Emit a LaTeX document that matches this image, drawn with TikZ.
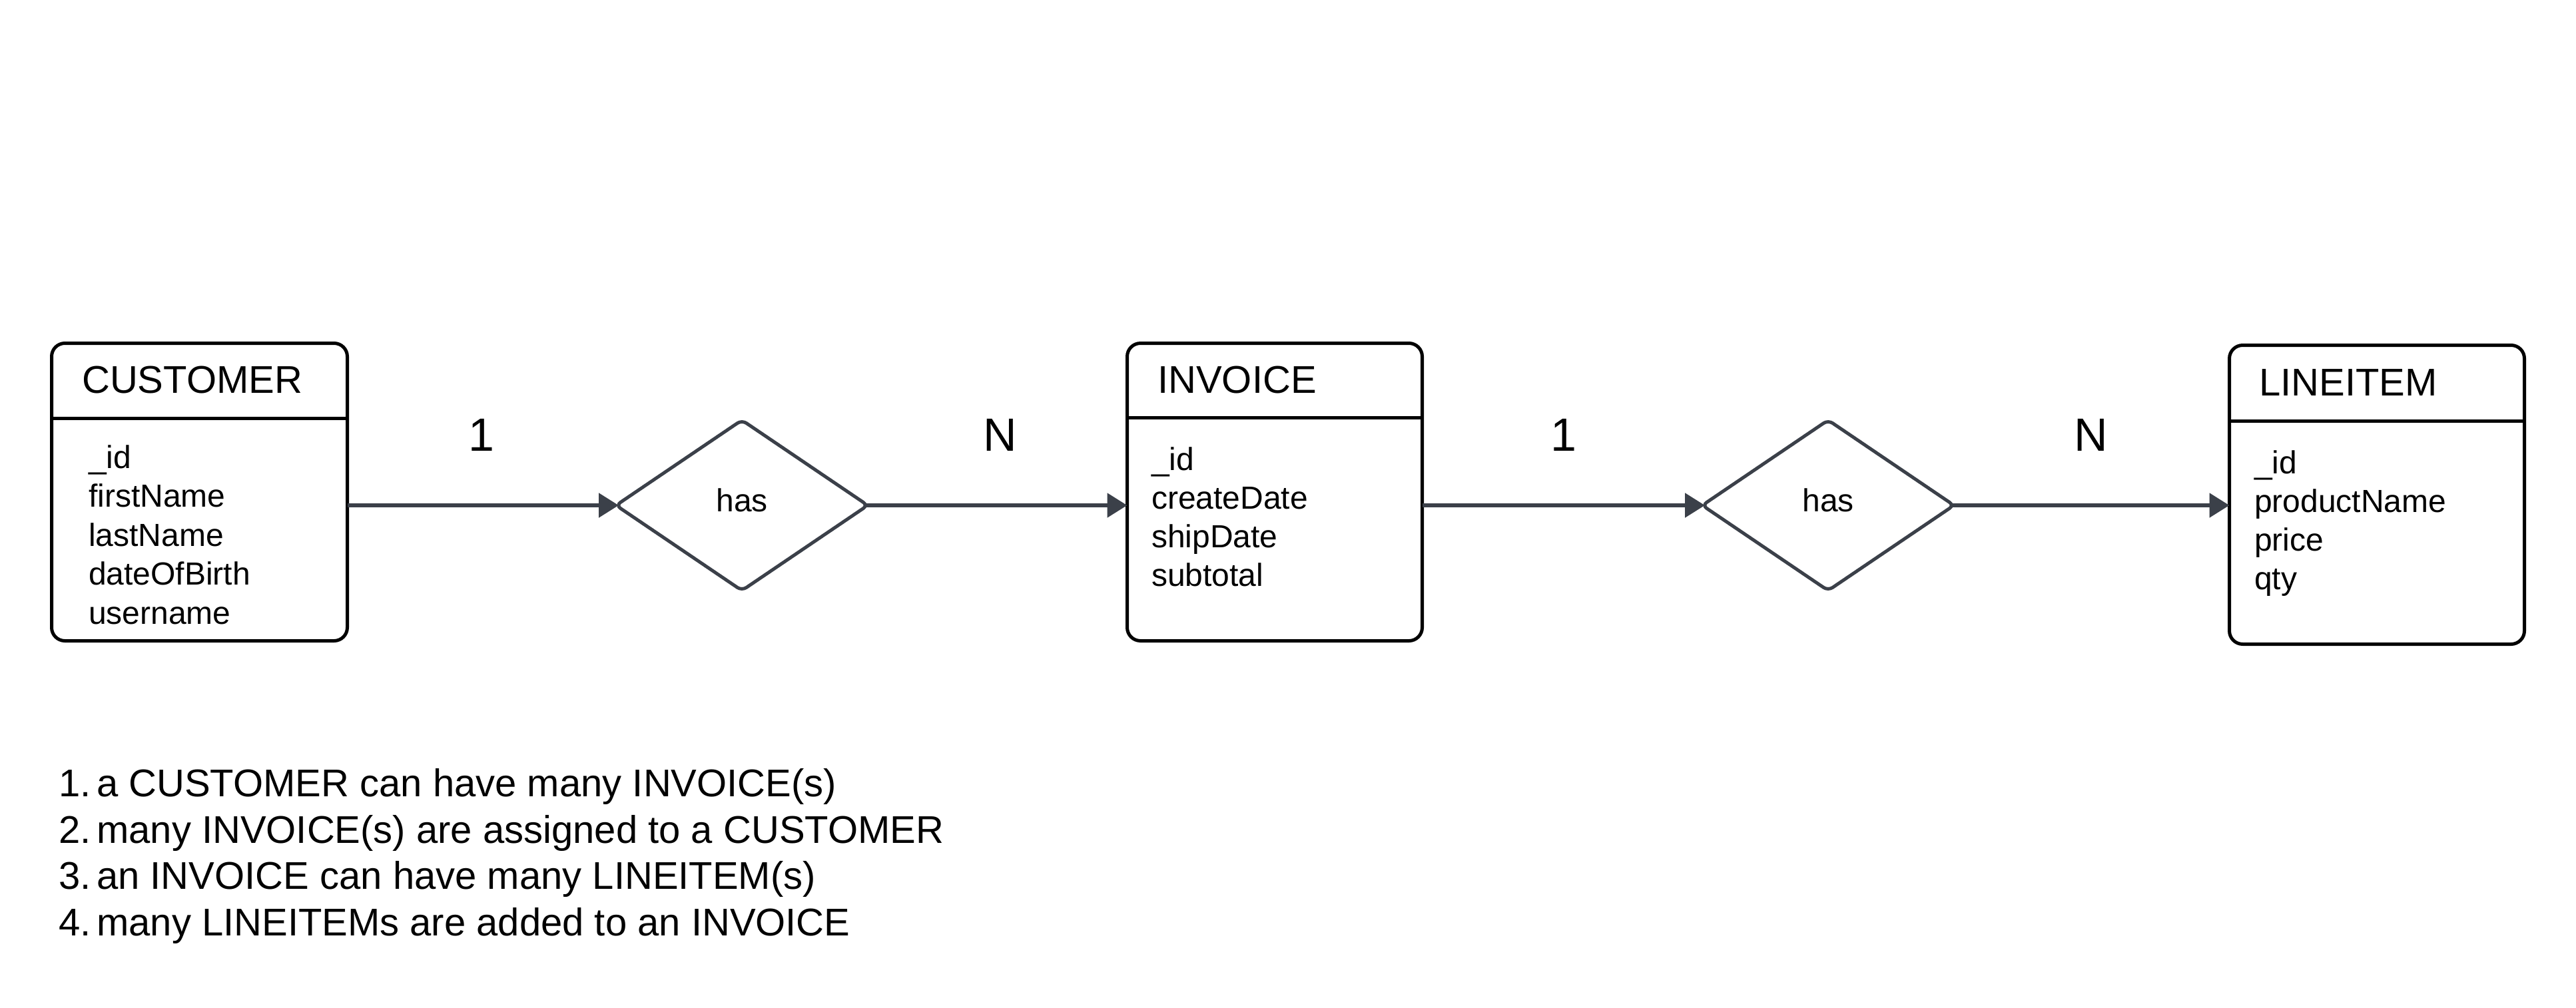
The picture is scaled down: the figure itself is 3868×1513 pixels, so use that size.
\documentclass[tikz,border=0pt]{standalone}
\usepackage{fontspec}
\setmainfont{Liberation Sans}
\usetikzlibrary{shapes.geometric,arrows.meta}
\definecolor{connclr}{HTML}{3B4049}
\begin{document}
\begin{tikzpicture}[x=1pt,y=-1pt,
  erentity/.style={draw=black, line width=5pt, rounded corners=20pt, inner sep=0pt, outer sep=0pt},
  errel/.style={draw=connclr, shape=diamond, line width=5pt, rounded corners=8pt,
    minimum width=378pt, minimum height=256pt, inner sep=0pt, outer sep=0pt},
  erreltext/.style={anchor=base, inner sep=0pt, font=\fontsize{48}{57}\selectfont},
  ertitle/.style={anchor=base west, inner sep=0pt, font=\fontsize{58}{69}\selectfont},
  erattr/.style={anchor=base west, inner sep=0pt, font=\fontsize{48}{57}\selectfont},
  ercard/.style={anchor=base, inner sep=0pt, font=\fontsize{70}{84}\selectfont},
  ernote/.style={anchor=base west, inner sep=0pt, font=\fontsize{58}{69}\selectfont},
  erlink/.style={draw=connclr, line width=5.5pt, -{Triangle[length=30pt,width=36pt]}},
  ersep/.style={draw=black, line width=5pt}
]
\useasboundingbox[fill=white] (0,0) rectangle (3868,1513);

% entity boxes
\node[erentity, minimum width=444pt, minimum height=447pt] (cust) at (299.5,739) {};
\node[erentity, minimum width=443pt, minimum height=447pt] (inv) at (1914,739) {};
\node[erentity, minimum width=443pt, minimum height=449pt] (li) at (3569,743) {};

% header separators
\coordinate (cs) at (77.5,628);
\draw[ersep] (cs) -- (cs -| cust.east);
\coordinate (is) at (1692.5,627);
\draw[ersep] (is) -- (is -| inv.east);
\coordinate (ls) at (3347.5,632);
\draw[ersep] (ls) -- (ls -| li.east);

% titles
\node[ertitle] (custT) at (123,590) {CUSTOMER};
\node[ertitle] (invT) at (1738,590) {INVOICE};
\node[ertitle] (liT) at (3392,594) {LINEITEM};

% attributes
\foreach \t [count=\i from 0] in {\_id,firstName,lastName,dateOfBirth,username}
  \node[erattr] (custA\i) at (133,703+58.5*\i) {\t};
\foreach \t [count=\i from 0] in {\_id,createDate,shipDate,subtotal}
  \node[erattr] (invA\i) at (1729,706+58.3*\i) {\t};
\foreach \t [count=\i from 0] in {\_id,productName,price,qty}
  \node[erattr] (liA\i) at (3385,711+58*\i) {\t};

% relationships
\node[errel] (d1) at (1114,759) {};
\node[errel] (d2) at (2745,759) {};
\node[erreltext] (d1T) at (1114,768) {has};
\node[erreltext] (d2T) at (2745,768) {has};

% connectors
\draw[erlink, shorten >=-4pt] (d1.west -| cust.east) -- (d1.west);
\draw[erlink, shorten <=-4pt] (d1.east) -- (d1.east -| inv.west);
\draw[erlink, shorten >=-4pt] (d2.west -| inv.east) -- (d2.west);
\draw[erlink, shorten <=-4pt] (d2.east) -- (d2.east -| li.west);

% cardinalities
\node[ercard] (c1) at (723,677) {1};
\node[ercard] (c2) at (1502,677) {N};
\node[ercard] (c3) at (2348,677) {1};
\node[ercard] (c4) at (3140,677) {N};

% notes
\node[ernote] (n1) at (88,1196) {1.};
\node[ernote] (t1) at (145,1196) {a CUSTOMER can have many INVOICE(s)};
\node[ernote] (n2) at (88,1266) {2.};
\node[ernote] (t2) at (145,1266) {many INVOICE(s) are assigned to a CUSTOMER};
\node[ernote] (n3) at (88,1335) {3.};
\node[ernote] (t3) at (145,1335) {an INVOICE can have many LINEITEM(s)};
\node[ernote] (n4) at (88,1405) {4.};
\node[ernote] (t4) at (145,1405) {many LINEITEMs are added to an INVOICE};
\end{tikzpicture}
\end{document}
